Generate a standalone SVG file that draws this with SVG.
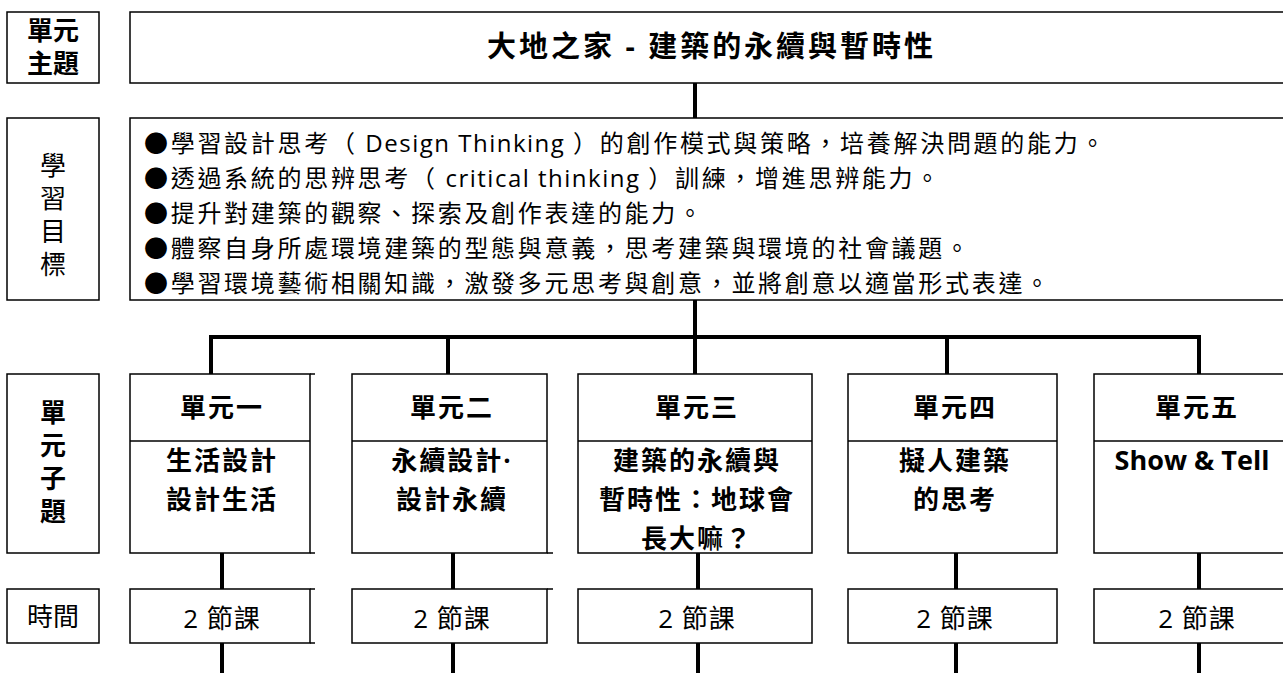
<svg xmlns="http://www.w3.org/2000/svg" width="1283" height="673" viewBox="0 0 1283 673">
<style>
.box{fill:#fff;stroke:#000;stroke-width:1.5}
.ln{stroke:#000;stroke-width:1.5;fill:none}
.conn{stroke:#000;stroke-width:4;fill:none}
text{font-family:"Open Sans","Noto Sans CJK TC","Noto Sans CJK SC",sans-serif;fill:#000}
.b{font-weight:bold}
.lbl{font-size:26px;text-anchor:middle}
.uh{font-size:26px;font-weight:bold;text-anchor:middle;letter-spacing:2px}
.st{font-size:26px;font-weight:bold;text-anchor:middle;letter-spacing:2px}
.tm{font-size:26px;text-anchor:middle;letter-spacing:1px}
.goal{font-size:24px;letter-spacing:2.7px}
.lat{letter-spacing:1.5px}
</style>
<rect width="1283" height="673" fill="#fff"/>

<g id="connectors">
<line class="conn" x1="695" y1="83" x2="695" y2="118"/>
<line class="conn" x1="695" y1="300" x2="695" y2="374"/>
<polyline class="conn" points="211,374 211,337 1199,337 1199,374"/>
<line class="conn" x1="448" y1="337" x2="448" y2="374"/>
<line class="conn" x1="947" y1="337" x2="947" y2="374"/>
<line class="conn" x1="222" y1="553" x2="222" y2="589"/>
<line class="conn" x1="222" y1="643" x2="222" y2="673"/>
<line class="conn" x1="453" y1="553" x2="453" y2="589"/>
<line class="conn" x1="453" y1="643" x2="453" y2="673"/>
<line class="conn" x1="698" y1="553" x2="698" y2="589"/>
<line class="conn" x1="698" y1="643" x2="698" y2="673"/>
<line class="conn" x1="956" y1="553" x2="956" y2="589"/>
<line class="conn" x1="956" y1="643" x2="956" y2="673"/>
<line class="conn" x1="1199" y1="553" x2="1199" y2="589"/>
<line class="conn" x1="1199" y1="643" x2="1199" y2="673"/>
</g>

<g id="label-theme">
<rect class="box" x="7" y="12" width="92" height="71"/>
<text class="lbl b" x="53" y="40">單元</text>
<text class="lbl b" x="53" y="73">主題</text>
</g>
<g id="title">
<rect class="box" x="130" y="12" width="1165" height="71"/>
<text class="b" x="487" y="57" font-size="29" textLength="446" lengthAdjust="spacing">大地之家 - 建築的永續與暫時性</text>
</g>

<g id="label-goals">
<rect class="box" x="7" y="118" width="92" height="182"/>
<text class="lbl" x="53" y="175">學</text>
<text class="lbl" x="53" y="208">習</text>
<text class="lbl" x="53" y="241">目</text>
<text class="lbl" x="53" y="274">標</text>
</g>
<g id="goals">
<rect class="box" x="130" y="118" width="1165" height="182"/>
<text class="goal" x="144" y="152">●學習設計思考（<tspan class="lat"> Design Thinking </tspan>）的創作模式與策略，培養解決問題的能力。</text>
<text class="goal" x="144" y="187">●透過系統的思辨思考（<tspan class="lat"> critical thinking </tspan>）訓練，增進思辨能力。</text>
<text class="goal" x="144" y="222">●提升對建築的觀察、探索及創作表達的能力。</text>
<text class="goal" x="144" y="257">●體察自身所處環境建築的型態與意義，思考建築與環境的社會議題。</text>
<text class="goal" x="144" y="292">●學習環境藝術相關知識，激發多元思考與創意，並將創意以適當形式表達。</text>
</g>

<g id="label-subtopic">
<rect class="box" x="7" y="374" width="92" height="179"/>
<text class="lbl b" x="53" y="422">單</text>
<text class="lbl b" x="53" y="455">元</text>
<text class="lbl b" x="53" y="488">子</text>
<text class="lbl b" x="53" y="521">題</text>
</g>

<g id="unit1">
<rect class="box" x="130" y="374" width="180" height="179"/>
<line class="ln" x1="130" y1="441" x2="310" y2="441"/>
<line class="ln" x1="310" y1="374" x2="315" y2="374"/>
<line class="ln" x1="310" y1="553" x2="315" y2="553"/>
<text class="uh" x="222" y="417">單元一</text>
<text class="st" x="222" y="470">生活設計</text>
<text class="st" x="222" y="509">設計生活</text>
</g>
<g id="unit2">
<rect class="box" x="352" y="374" width="195" height="179"/>
<line class="ln" x1="352" y1="441" x2="547" y2="441"/>
<line class="ln" x1="547" y1="553" x2="553" y2="553"/>
<text class="uh" x="452" y="417">單元二</text>
<text class="st" x="452" y="470">永續設計·</text>
<text class="st" x="452" y="509">設計永續</text>
</g>
<g id="unit3">
<rect class="box" x="578" y="374" width="234" height="179"/>
<line class="ln" x1="578" y1="441" x2="812" y2="441"/>
<text class="uh" x="697" y="417">單元三</text>
<text class="st" x="697" y="470">建築的永續與</text>
<text class="st" x="697" y="509">暫時性：地球會</text>
<text class="st" x="697" y="548">長大嘛？</text>
</g>
<g id="unit4">
<rect class="box" x="848" y="374" width="209" height="179"/>
<line class="ln" x1="848" y1="441" x2="1057" y2="441"/>
<text class="uh" x="955" y="417">單元四</text>
<text class="st" x="955" y="470">擬人建築</text>
<text class="st" x="955" y="509">的思考</text>
</g>
<g id="unit5">
<rect class="box" x="1094" y="374" width="200" height="179"/>
<line class="ln" x1="1094" y1="441" x2="1294" y2="441"/>
<text class="uh" x="1197" y="417">單元五</text>
<text class="b" x="1192" y="470" font-size="27" text-anchor="middle">Show &amp; Tell</text>
</g>

<g id="label-time">
<rect class="box" x="7" y="589" width="92" height="54"/>
<text class="lbl" x="53" y="626">時間</text>
</g>
<g id="time1">
<rect class="box" x="130" y="589" width="180" height="54"/>
<line class="ln" x1="310" y1="589" x2="315" y2="589"/>
<line class="ln" x1="310" y1="643" x2="315" y2="643"/>
<text class="tm" x="222" y="628">2 節課</text>
</g>
<g id="time2">
<rect class="box" x="352" y="589" width="195" height="54"/>
<line class="ln" x1="547" y1="589" x2="553" y2="589"/>
<text class="tm" x="452" y="628">2 節課</text>
</g>
<g id="time3">
<rect class="box" x="578" y="589" width="234" height="54"/>
<text class="tm" x="697" y="628">2 節課</text>
</g>
<g id="time4">
<rect class="box" x="848" y="589" width="209" height="54"/>
<text class="tm" x="955" y="628">2 節課</text>
</g>
<g id="time5">
<rect class="box" x="1094" y="589" width="200" height="54"/>
<text class="tm" x="1197" y="628">2 節課</text>
</g>
</svg>
